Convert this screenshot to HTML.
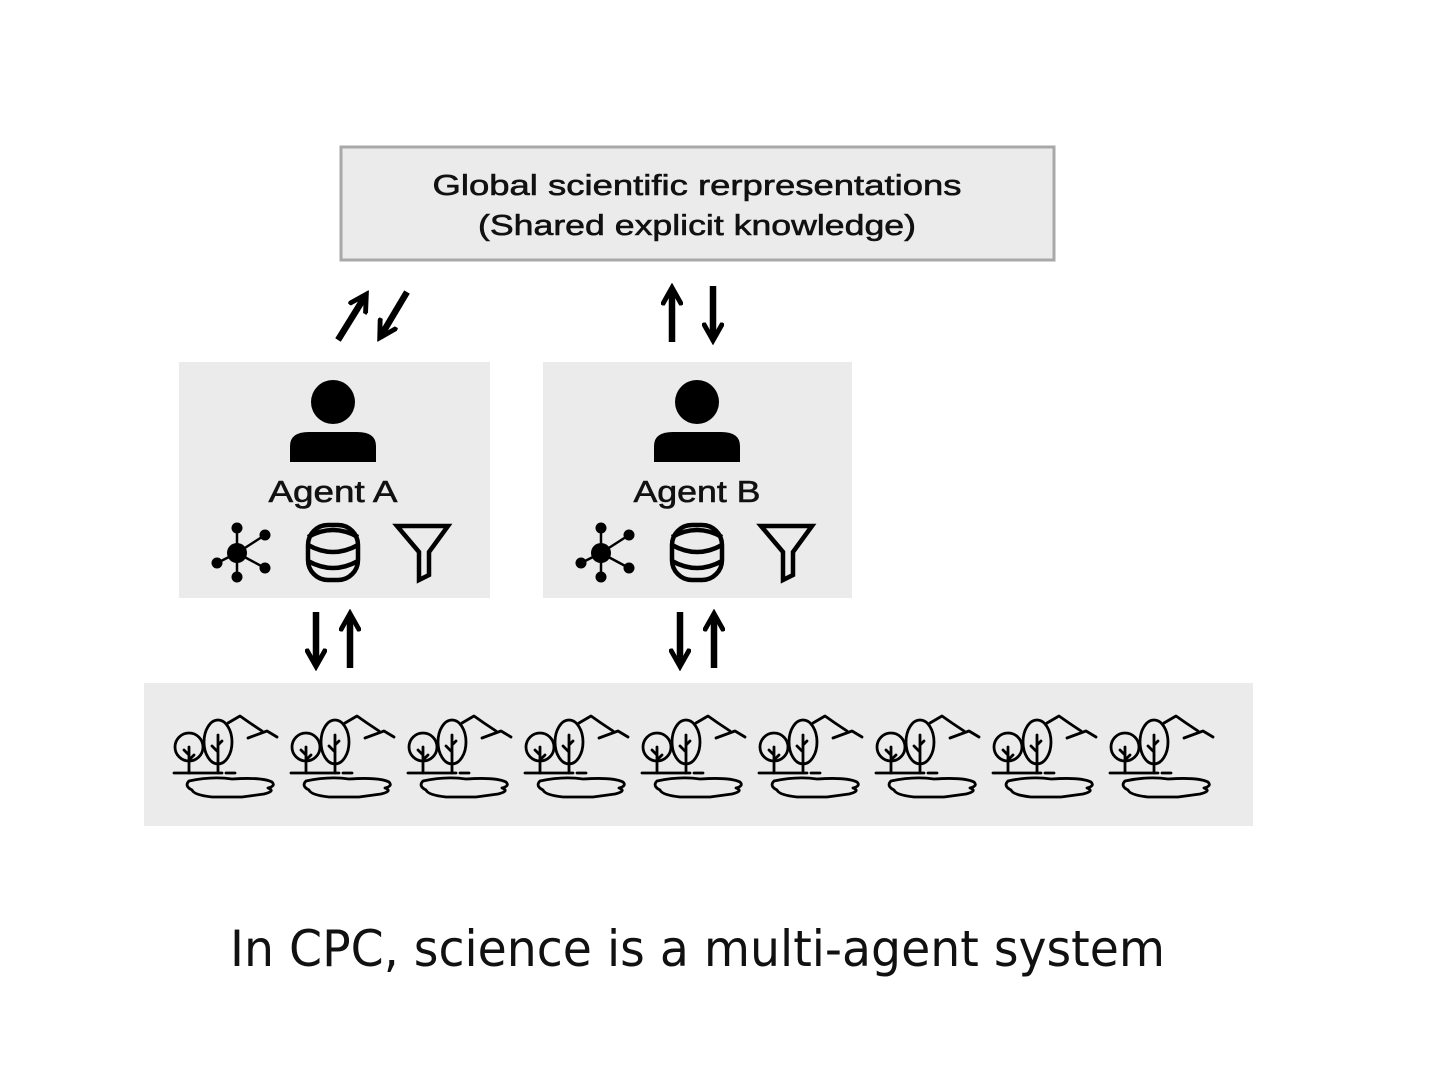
<!DOCTYPE html>
<html><head><meta charset="utf-8"><style>html,body{margin:0;padding:0;background:#fff}svg{display:block}</style></head>
<body>
<svg width="1440" height="1080" viewBox="0 0 1440 1080" xmlns="http://www.w3.org/2000/svg">
<defs>
<marker id="ah" viewBox="0 0 10 10" refX="6" refY="5" markerWidth="3.4" markerHeight="3.4" orient="auto-start-reverse"><path d="M0,0.5 L8,5 L0,9.5" fill="none" stroke="#000" stroke-width="2.2" stroke-linejoin="miter"/></marker>
<g id="scene" fill="none" stroke="#000" stroke-width="2.8" stroke-linecap="round" stroke-linejoin="round">
  <circle cx="17" cy="47" r="14"/>
  <ellipse cx="46" cy="42" rx="14" ry="22" fill="#ebebeb"/>
  <path d="M17,73 V47 M17,55 L12,50 M17,60 L22,55"/>
  <path d="M46,73 V35 M46,52 L40,46 M46,45 L50,41"/>
  <path d="M2,73 H50 M54,73 H63"/>
  <path d="M56,23 L68,16 L78,23 L90,31"/>
  <path d="M76,38 L95,31 L105,37"/>
  <path d="M17,81 Q40,76 60,79 Q90,77 100,82 Q104,86 96,88 Q104,91 92,94 L70,97 L40,97 Q22,95 20,90 Q12,86 17,81 z"/>
</g>
<g id="icons">
  <g stroke="#000" stroke-width="2.5"><line x1="0" y1="0" x2="0" y2="-25"/><line x1="0" y1="0" x2="28" y2="-18"/><line x1="0" y1="0" x2="28" y2="15"/><line x1="0" y1="0" x2="0" y2="24"/><line x1="0" y1="0" x2="-20" y2="10"/></g>
  <circle cx="0" cy="0" r="10"/><circle cx="0" cy="-25" r="5.5"/><circle cx="28" cy="-18" r="5.5"/><circle cx="28" cy="15" r="5.5"/><circle cx="0" cy="24" r="5.5"/><circle cx="-20" cy="10" r="5.5"/>
  <g fill="none" stroke="#000" stroke-width="4.5">
    <rect x="71" y="-28" width="50" height="55" rx="20"/>
    <path d="M71,-8 Q96,6 121,-8 M71,8 Q96,22 121,8 M71,-16 Q96,-30 121,-16"/>
    <path d="M160,-27 H211 L192,-1 V22 L182,27 V-1 z"/>
  </g>
</g>
<g id="agent">
  <circle cx="0" cy="40" r="22"/>
  <path d="M-43,100 V84 Q-43,70 -24,70 H24 Q43,70 43,84 V100 z"/>
</g>
</defs>

<rect x="341" y="147" width="713" height="113" fill="#ebebeb" stroke="#a8a8a8" stroke-width="3"/>
<g font-family="Liberation Sans, sans-serif" font-size="29" text-anchor="middle" fill="#111" stroke="#111" stroke-width="0.6">
<text x="697" y="195" textLength="529" lengthAdjust="spacingAndGlyphs">Global scientific rerpresentations</text>
<text x="697" y="235" textLength="438" lengthAdjust="spacingAndGlyphs">(Shared explicit knowledge)</text>
</g>

<g stroke="#000" stroke-width="6.5" marker-end="url(#ah)" fill="none">
<line x1="338" y1="340" x2="364" y2="298"/>
<line x1="407" y1="292" x2="382" y2="334"/>
<line x1="672" y1="342" x2="672" y2="292"/>
<line x1="713" y1="286" x2="713" y2="336"/>
<line x1="316" y1="612" x2="316" y2="662"/>
<line x1="350" y1="668" x2="350" y2="618"/>
<line x1="680" y1="612" x2="680" y2="662"/>
<line x1="714" y1="668" x2="714" y2="618"/>
</g>

<rect x="179" y="362" width="311" height="236" fill="#ebebeb"/>
<rect x="543" y="362" width="309" height="236" fill="#ebebeb"/>
<use href="#agent" x="333" y="362"/>
<use href="#agent" x="697" y="362"/>
<g font-family="Liberation Sans, sans-serif" font-size="31" text-anchor="middle" fill="#111" stroke="#111" stroke-width="0.6">
<text x="333" y="502" textLength="129" lengthAdjust="spacingAndGlyphs">Agent A</text>
<text x="697" y="502" textLength="127" lengthAdjust="spacingAndGlyphs">Agent B</text>
</g>
<use href="#icons" x="237" y="553"/>
<use href="#icons" x="601" y="553"/>

<rect x="144" y="683" width="1109" height="143" fill="#ebebeb"/>
<use href="#scene" x="172" y="700"/>
<use href="#scene" x="289" y="700"/>
<use href="#scene" x="406" y="700"/>
<use href="#scene" x="523" y="700"/>
<use href="#scene" x="640" y="700"/>
<use href="#scene" x="757" y="700"/>
<use href="#scene" x="874" y="700"/>
<use href="#scene" x="991" y="700"/>
<use href="#scene" x="1108" y="700"/>

<text x="230" y="966" font-family="DejaVu Sans, sans-serif" font-size="50" fill="#111" textLength="935" lengthAdjust="spacingAndGlyphs">In CPC, science is a multi-agent system</text>
</svg>
</body></html>
